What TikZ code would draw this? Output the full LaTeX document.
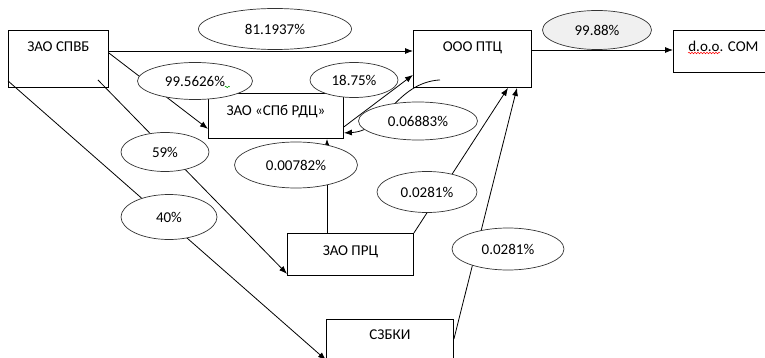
\documentclass[tikz,border=0pt]{standalone}
\usepackage{fontspec}
\setmainfont{Carlito}
\usetikzlibrary{arrows.meta,shapes.geometric,calc,decorations.pathmorphing}

\begin{document}
\begin{tikzpicture}[x=1pt,y=-1pt,>={Latex[length=8pt,width=6pt]},line width=0.8pt,
                    font=\fontsize{15}{18}\selectfont]
  \tikzstyle{box}=[draw,rectangle,anchor=north west,inner sep=0pt,line width=0.9pt,
                   text height=21pt]
  \tikzstyle{pct}=[draw=black!80,ellipse,fill=white,inner sep=0pt,line width=0.7pt]
  \tikzstyle{wave}=[decorate,decoration={snake,amplitude=0.8pt,segment length=3pt},line width=0.5pt]

  \path[use as bounding box,clip] (0,0) rectangle (765,358);

  % companies
  \node[box,minimum width=100pt,text depth=36pt] (spvb) at (8,30) {ЗАО СПВБ};
  \node[box,minimum width=118pt,text depth=36pt] (ptc) at (413,30) {ООО ПТЦ};
  \node[box,minimum width=100pt,text depth=21pt] (com) at (673,30) {d.o.o. COM};
  \node[box,minimum width=135pt,text height=22pt,text depth=23pt] (rdc) at (208,93) {ЗАО «СПб РДЦ»};
  \node[box,minimum width=126pt,text height=22pt,text depth=20pt] (prc) at (287,233) {ЗАО ПРЦ};
  \node[box,minimum width=127pt,text height=20pt,text depth=25pt] (szbki) at (326,319) {СЗБКИ};

  % ownership links
  \draw[->] ($(spvb.north east)+(0,21)$) -- ($(ptc.north west)+(0,21)$);
  \draw[->] ($(ptc.north east)+(0,20)$) -- ($(com.north west)+(0,20)$);
  \draw[->] ($(spvb.north east)+(0,23)$) -- ($(rdc.south west)+(0,-10)$);
  \draw[->] ($(spvb.south east)+(-11,-8)$) -- ($(prc.south west)+(0,-2)$);
  \draw[->] ($(spvb.south west)+(0,-7)$) -- ($(szbki.north west)+(0,41)$);
  \draw[->] ($(rdc.south east)+(0,-12)$) -- ($(ptc.south west)+(0,-13)$);
  \draw[->] ($(ptc.south west)+(27,-8)$) .. controls +(-45,3) and +(42,-2) .. ($(rdc.south east)+(0,-6)$);
  \draw[->] ($(prc.north west)+(40,0)$) -- ($(rdc.south west)+(119,0)$);
  \draw[->] (prc.north east) -- ($(ptc.south west)+(95,0)$);
  \draw[->] ($(szbki.north east)+(0,20)$) -- ($(ptc.south west)+(104,0)$);

  % shares
  \node[pct,minimum width=153pt,minimum height=41pt] (p81) at (275,29) {81.1937\%};
  \node[pct,minimum width=115pt,minimum height=37pt] (p99) at (195,81) {99.5626\%};
  \node[pct,minimum width=88pt,minimum height=35pt] (p18) at (354,80) {18.75\%};
  \node[pct,minimum width=119pt,minimum height=38pt] (p068) at (418,121) {0.06883\%};
  \node[pct,fill=black!6,minimum width=109pt,minimum height=39pt] (p9988) at (597,30) {99.88\%};
  \node[pct,minimum width=88pt,minimum height=39pt] (p59) at (165,152) {59\%};
  \node[pct,minimum width=123pt,minimum height=46pt] (p0078) at (296,165) {0.00782\%};
  \node[pct,minimum width=100pt,minimum height=41pt] (p028a) at (427,192) {0.0281\%};
  \node[pct,minimum width=96pt,minimum height=45pt] (p40) at (169,217) {40\%};
  \node[pct,minimum width=112pt,minimum height=42pt] (p028b) at (508,249) {0.0281\%};

  % spell-check marks
  \draw[wave,red] ($(com.north west)+(15,23)$) -- +(32,0);
  \draw[wave,green!60!black] ($(p99.east)+(-28,6)$) -- +(5,0);
\end{tikzpicture}
\end{document}
